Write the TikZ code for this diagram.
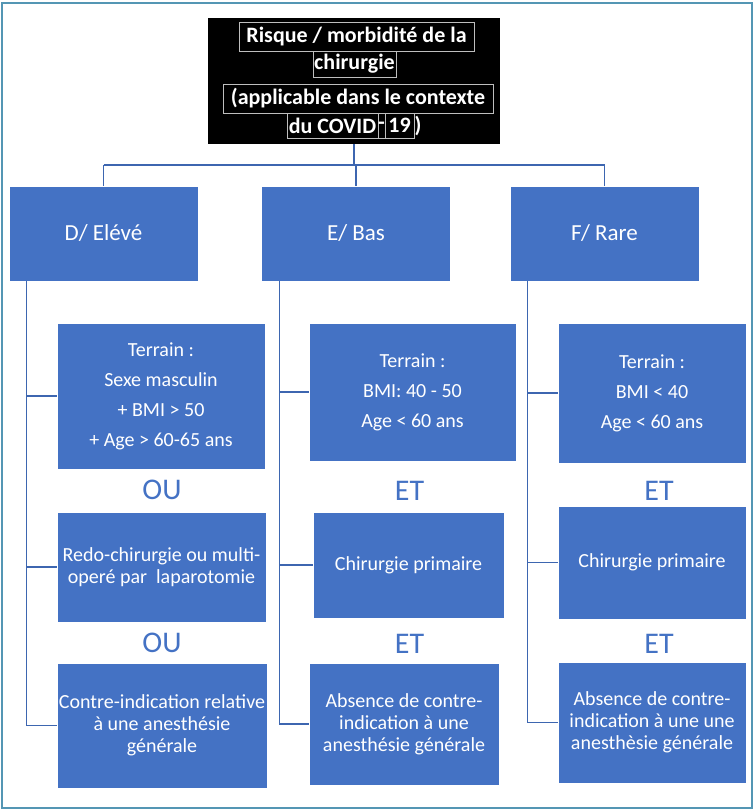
\documentclass[tikz,border=0pt]{standalone}
\usepackage{fontspec}
\setmainfont{Carlito}
\usepackage{tikz}
\definecolor{boxblue}{RGB}{68,114,196}
\definecolor{linkblue}{RGB}{61,102,176}
\definecolor{framegray}{RGB}{190,190,190}
\definecolor{edgeteal}{RGB}{84,150,180}
\tikzset{
  riskbox/.style={fill=boxblue,draw=white,line width=0.6pt,text=white,align=center,inner sep=0pt,
    font=\fontsize{23}{26}\selectfont,minimum width=189pt,minimum height=95pt},
  critbox/.style={fill=boxblue,draw=white,line width=0.6pt,text=white,align=center,inner sep=0pt,
    font=\fontsize{20}{22}\selectfont},
  joiner/.style={text=boxblue,font=\fontsize{30}{30}\selectfont,inner sep=0pt},
  wordframe/.style={draw=framegray,line width=0.6pt,text=white,inner sep=0pt,
    font=\bfseries\fontsize{22}{24}\selectfont,anchor=center},
  link/.style={draw=linkblue,line width=1.4pt}
}
\begin{document}
\begin{tikzpicture}[x=1pt,y=-1pt]
  \useasboundingbox (0,0) rectangle (755,811);
  \draw[edgeteal,line width=2pt] (2,3) rectangle (752,808);
  % titre
  \node[fill=black,minimum width=292pt,minimum height=126pt,inner sep=0pt] (top) at (354,81) {};
  \node[wordframe,minimum width=235pt,minimum height=29pt] (t1) at (356.5,36.5) {Risque / morbidité de la};
  \node[wordframe,minimum width=83pt,minimum height=26pt] (t2) at (354.5,64) {chirurgie};
  \node[wordframe,minimum width=270pt,minimum height=29pt] (t3) at (358,98.5) {(applicable dans le contexte};
  \node[wordframe,minimum width=91pt,minimum height=25pt] (t4) at (332.5,125.5) {du COVID};
  \node[wordframe,minimum width=6pt,minimum height=25pt] (t5) at (381.5,125.5) {-};
  \node[wordframe,minimum width=29pt,minimum height=25pt] (t6) at (399.5,125.5) {19};
  \node[wordframe,draw=none] (t7) at (418,125.5) {)};
  % niveaux
  \node[riskbox] (D) at (103.5,233.5) {D/ Elévé};
  \node[riskbox] (E) at (356,233.5) {E/ Bas};
  \node[riskbox] (F) at (604.5,233.5) {F/ Rare};
  \coordinate (bar) at (354,165);
  \draw[link] (top.south) -- (bar);
  \foreach \n in {D,E,F}
    \draw[link] (bar -| \n.north) -- (\n.north);
  \draw[link] (bar -| D.north) -- (bar -| F.north);
  % colonne D
  \node[critbox,minimum width=208pt,minimum height=146pt] (D1) at (161,396)
    {Terrain :\\[8pt]Sexe masculin\\[8pt]+ BMI > 50\\[8pt]+ Age > 60-65 ans};
  \node[joiner] (ou1) at (162,490) {OU};
  \node[critbox,minimum width=209pt,minimum height=110pt] (D2) at (161.5,567)
    {Redo-chirurgie ou multi-\\operé par\ \ laparotomie};
  \node[joiner] (ou2) at (162,643) {OU};
  \node[critbox,minimum width=210pt,minimum height=125pt] (D3) at (162,725.5)
    {Contre-indication relative\\à une anesthésie\\générale};
  % colonne E
  \node[critbox,minimum width=207pt,minimum height=138pt] (E1) at (412.5,392)
    {Terrain :\\[8pt]BMI: 40 - 50\\[8pt]Age < 60 ans};
  \node[joiner] (et1) at (409.5,491) {ET};
  \node[critbox,minimum width=191pt,minimum height=106pt] (E2) at (408.5,565)
    {Chirurgie primaire};
  \node[joiner] (et2) at (409.5,644) {ET};
  \node[critbox,minimum width=190pt,minimum height=122pt] (E3) at (404,724)
    {Absence de contre-\\indication à une\\anesthésie générale};
  % colonne F
  \node[critbox,minimum width=188pt,minimum height=140pt] (F1) at (652,393)
    {Terrain :\\[8pt]BMI < 40\\[8pt]Age < 60 ans};
  \node[joiner] (et3) at (659,491) {ET};
  \node[critbox,minimum width=188pt,minimum height=113pt] (F2) at (652,562.5)
    {Chirurgie primaire};
  \node[joiner] (et4) at (659,644) {ET};
  \node[critbox,minimum width=188pt,minimum height=121pt] (F3) at (652,722.5)
    {Absence de contre-\\indication à une une\\anesthèsie générale};
  \foreach \c in {D,E,F}
    \foreach \k in {1,2,3}
      \draw[link] ([xshift=18pt]\c.south west) |- (\c\k.west);
\end{tikzpicture}
\end{document}
